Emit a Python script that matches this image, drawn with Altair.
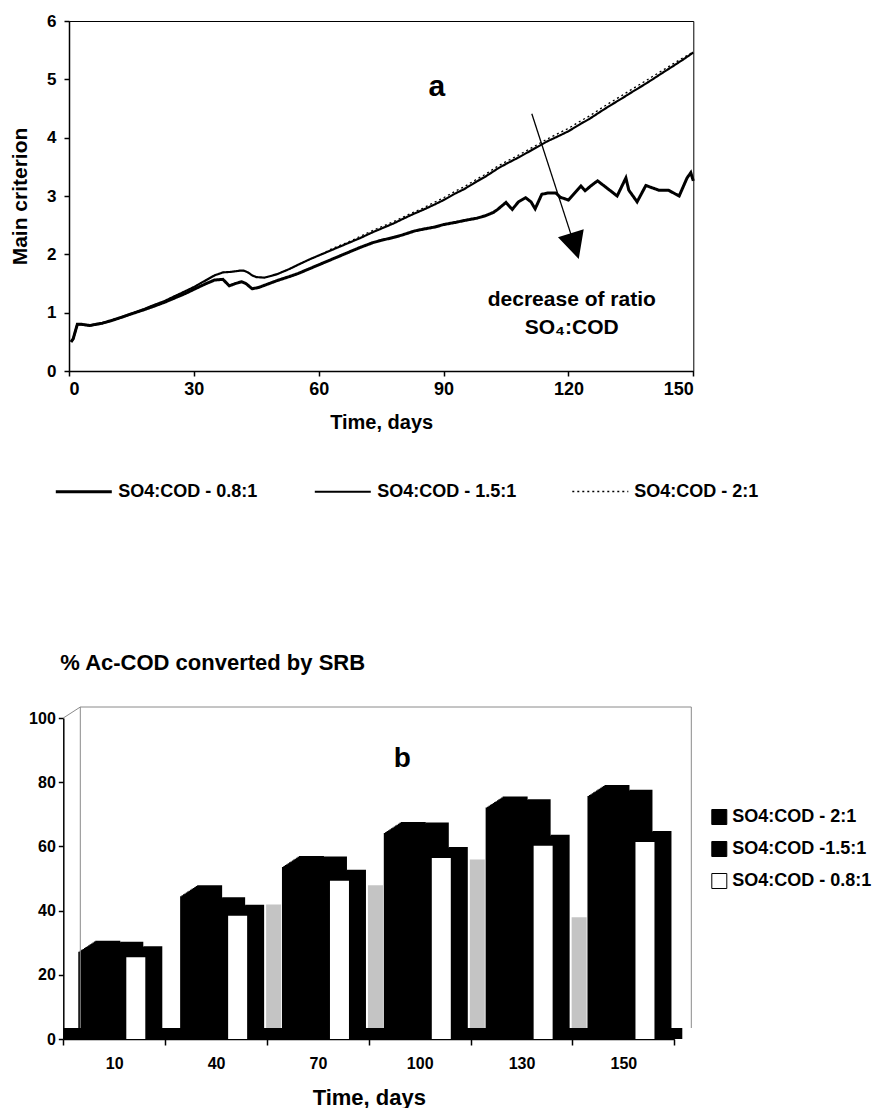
import altair as alt
import pandas as pd

FONT = "Liberation Sans"

# ---------------- panel a : main criterion vs time ----------------
S08 = "SO4:COD - 0.8:1"
S15 = "SO4:COD - 1.5:1"
S20 = "SO4:COD - 2:1"

days_a = [0.5, 1, 2, 3, 5, 8, 10, 13, 15, 18, 20, 23, 25, 28, 30, 33, 35, 37, 39, 41,
          42, 43, 44, 45, 47, 50, 53, 55, 58, 60, 63, 65, 68, 70, 73, 75, 78, 80, 83, 85,
          88, 90, 93, 95, 98, 100, 103, 105, 108, 110, 113, 115, 118, 120, 123, 125, 128, 130, 133, 135,
          138, 140, 143, 145, 148, 150]
crit_15 = [0.5, 0.55, 0.8, 0.8, 0.78, 0.82, 0.86, 0.93, 0.98, 1.06, 1.12, 1.2, 1.27, 1.37, 1.44, 1.56, 1.64, 1.69, 1.7, 1.72,
           1.72, 1.69, 1.64, 1.61, 1.6, 1.66, 1.75, 1.82, 1.92, 1.98, 2.07, 2.13, 2.22, 2.28, 2.38, 2.44, 2.53, 2.6, 2.7, 2.76,
           2.86, 2.93, 3.05, 3.12, 3.25, 3.33, 3.47, 3.55, 3.66, 3.74, 3.86, 3.94, 4.04, 4.11, 4.24, 4.32, 4.46, 4.55, 4.68, 4.77,
           4.9, 4.99, 5.13, 5.22, 5.36, 5.46]
crit_20 = [0.5, 0.55, 0.8, 0.8, 0.78, 0.82, 0.86, 0.93, 0.98, 1.06, 1.12, 1.2, 1.27, 1.37, 1.44, 1.56, 1.64, 1.69, 1.7, 1.72,
           1.72, 1.69, 1.64, 1.61, 1.6, 1.66, 1.75, 1.82, 1.92, 1.98, 2.09, 2.15, 2.24, 2.31, 2.41, 2.47, 2.56, 2.63, 2.73, 2.79,
           2.9, 2.97, 3.09, 3.16, 3.29, 3.37, 3.51, 3.59, 3.7, 3.78, 3.9, 3.98, 4.09, 4.16, 4.29, 4.37, 4.51, 4.6, 4.73, 4.82,
           4.95, 5.04, 5.17, 5.26, 5.39, 5.47]
days_b = [0.5, 1, 2, 3, 5, 8, 10, 13, 15, 18, 20, 23, 25, 28, 30, 33, 35, 37, 38.5, 40,
          41.5, 42.5, 44, 45.5, 47, 50, 53, 55, 58, 60, 63, 65, 68, 70, 73, 75, 78, 80, 83, 85,
          88, 90, 93, 95, 98, 100, 102, 103, 105, 106.5, 108, 109.7, 111, 112, 113.6, 115, 117, 118, 120, 121.5,
          123, 124, 125.5, 127, 129, 131.7, 133.8, 134.5, 136.5, 138.6, 141.7, 144, 146.6, 148.5, 149.4, 150]
crit_08 = [0.5, 0.55, 0.8, 0.8, 0.78, 0.82, 0.86, 0.93, 0.98, 1.05, 1.1, 1.18, 1.24, 1.33, 1.4, 1.5, 1.56, 1.57, 1.46, 1.5,
           1.53, 1.5, 1.41, 1.43, 1.47, 1.55, 1.62, 1.67, 1.76, 1.82, 1.91, 1.97, 2.06, 2.12, 2.2, 2.24, 2.29, 2.33, 2.4, 2.43,
           2.47, 2.51, 2.55, 2.58, 2.62, 2.66, 2.72, 2.77, 2.89, 2.77, 2.9, 2.97, 2.9, 2.78, 3.03, 3.05, 3.05, 2.98, 2.93, 3.05,
           3.17, 3.09, 3.18, 3.26, 3.15, 3.0, 3.31, 3.1, 2.9, 3.18, 3.1, 3.1, 3.0, 3.31, 3.4, 3.26]

arrow_day = [111.2, 120.8]
arrow_crit = [4.41, 2.3]
head_day = [121.4]
head_crit = [2.17]

# ---------------- panel b : % Ac-COD converted by SRB ----------------
bar_days = ["10", "40", "70", "100", "130", "150"]
B20 = "SO4:COD - 2:1"
B15 = "SO4:COD -1.5:1"
B08 = "SO4:COD - 0.8:1"
pct_20 = [27.2, 44.5, 53.6, 64.2, 72.1, 75.7]
pct_15 = [26.9, 40.7, 53.4, 64.0, 71.3, 74.2]
pct_08 = [25.5, 38.4, 49.3, 56.4, 60.2, 61.4]
shade_days = ["40", "70", "100", "130"]
shade_pct = [41, 47, 55, 37]

# ---------------- layout constants ----------------
X0 = 70.7
W_A, H_A = 624.3, 350
W_B, H_B = 605.3, 321
FRONT = -5.7          # front y axis of panel b, relative to plot origin
DX, DY = 17.0, 11.0   # 3-D depth of panel b
STEPS = 12

# ================= panel a =================
df_a = pd.DataFrame({
    "day": days_b + days_a + days_a,
    "crit": crit_08 + crit_15 + crit_20,
    "series": [S08] * len(days_b) + [S15] * len(days_a) + [S20] * len(days_a),
})
ser_a = [S08, S15, S20]

leg_a = alt.Legend(title=None, orient="none", legendX=56 - X0, legendY=441, direction="horizontal",
                   symbolType="stroke", symbolSize=3136, symbolStrokeColor="black",
                   labelFont=FONT, labelFontSize=18, labelFontWeight="bold", labelColor="black",
                   labelOffset=5, columnPadding=52, labelLimit=400)

xa = alt.X("day:Q", scale=alt.Scale(domain=[0, 150], nice=False, zero=False),
           axis=alt.Axis(values=[0, 30, 60, 90, 120, 150], title="Time, days", grid=False,
                         labelFontSize=18, titleFontSize=20, tickSize=5, labelPadding=4,
                         titlePadding=14, domainWidth=1.5, tickWidth=1.5))
ya = alt.Y("crit:Q", scale=alt.Scale(domain=[0, 6], nice=False),
           axis=alt.Axis(values=[0, 1, 2, 3, 4, 5, 6], title="Main criterion", grid=False,
                         labelFontSize=17, titleFontSize=21, tickSize=5, labelPadding=8,
                         titlePadding=16, domainWidth=1.5, tickWidth=1.5))

lines = alt.Chart(df_a).mark_line(color="black", strokeCap="butt").encode(
    x=xa, y=ya,
    strokeWidth=alt.StrokeWidth("series:N", scale=alt.Scale(domain=ser_a, range=[3, 1.3, 1.3]), legend=leg_a),
    strokeDash=alt.StrokeDash("series:N", scale=alt.Scale(domain=ser_a, range=[[1, 0], [1, 0], [2, 3]]), legend=leg_a),
)

df_arrow = pd.DataFrame({"day": arrow_day, "crit": arrow_crit})
arrow = alt.Chart(df_arrow).mark_line(color="black", strokeWidth=1.3).encode(x=xa, y=ya)
df_head = pd.DataFrame({"day": head_day, "crit": head_crit})
head = alt.Chart(df_head).mark_point(shape="M-1,-0.9L1,-0.9L0,1.1Z", size=560, angle=343,
                                     filled=True, fill="black", stroke="black", opacity=1).encode(x=xa, y=ya)


def note(text, day, crit, size):
    return alt.Chart(pd.DataFrame({"day": [day], "crit": [crit]})).mark_text(
        text=text, font=FONT, fontSize=size, fontWeight="bold", color="black",
        align="center", baseline="alphabetic").encode(x=xa, y=ya)


panel_a = alt.layer(
    lines, arrow, head,
    note("a", 88.4, 4.71, 30),
    note("decrease of ratio", 120.8, 1.11, 21),
    note("SO\u2084:COD", 120.8, 0.63, 21),
).properties(width=W_A, height=H_A, view=alt.ViewBackground(stroke="black", strokeWidth=1))

# ================= panel b =================
df_b = pd.DataFrame({
    "day": bar_days * 3,
    "pct": pct_20 + pct_15 + pct_08,
    "series": [B20] * 6 + [B15] * 6 + [B08] * 6,
})
df_shade = pd.DataFrame({"day": shade_days, "pct": shade_pct})
one = pd.DataFrame({"k": [0]})

xb = alt.X("day:N", sort=bar_days,
           scale=alt.Scale(domain=bar_days, range=[FRONT, W_B], paddingInner=0, paddingOuter=0),
           axis=alt.Axis(title="Time, days", labelAngle=0, tickBand="extent", labelFontSize=16,
                         titleFontSize=22, tickSize=6, labelPadding=10, titlePadding=16,
                         domainWidth=1.5, tickWidth=1.5))
yb = alt.Y("pct:Q", scale=alt.Scale(domain=[0, 100], nice=False),
           axis=alt.Axis(values=[0, 20, 40, 60, 80, 100], title=None, grid=False, offset=-FRONT,
                         labelFontSize=16, tickSize=5, labelPadding=3, domainWidth=1.5, tickWidth=1.5))

fill_b = alt.Fill("series:N", scale=alt.Scale(domain=[B20, B15, B08], range=["#000000", "#000000", "#ffffff"]),
                  legend=alt.Legend(title=None, orient="none", legendX=712 - X0, legendY=90,
                                    symbolType="square", symbolSize=225, symbolStrokeColor="black",
                                    symbolStrokeWidth=1, labelFont=FONT, labelFontSize=18,
                                    labelFontWeight="bold", labelColor="black", labelOffset=4,
                                    rowPadding=12, labelLimit=400))

band_c = (W_B - FRONT) / 6 / 2
geo = {B20: (25, 27.5), B15: (23, 51.5), B08: (19, 72.5)}  # (face width, face centre in band)

layers_b = []
layers_b.append(alt.Chart(df_shade).mark_bar(width=15, xOffset=108.5 - band_c, yOffset=-3,
                                            color="#c4c4c4").encode(x=xb, y=yb))
layers_b.append(alt.Chart(one).mark_rect(color="black").encode(
    x=alt.value(FRONT), x2=alt.value(W_B + 8), y=alt.value(H_B - DY), y2=alt.value(H_B)))

for ser in [B20, B15, B08]:
    w, c = geo[ser]
    src = alt.Chart(df_b).transform_filter(alt.datum.series == ser)
    for k in range(STEPS, 0, -1):
        layers_b.append(src.mark_bar(width=w, xOffset=c - band_c + k * DX / STEPS,
                                     yOffset=-k * DY / STEPS, color="black").encode(x=xb, y=yb))
    layers_b.append(src.mark_bar(width=w, xOffset=c - band_c).encode(x=xb, y=yb, fill=fill_b))

wall = dict(color="#8a8a8a", strokeWidth=1)
layers_b += [
    alt.Chart(one).mark_rule(**wall).encode(x=alt.value(FRONT + DX), x2=alt.value(W_B + DX), y=alt.value(-DY)),
    alt.Chart(one).mark_rule(**wall).encode(x=alt.value(FRONT + DX), y=alt.value(-DY), y2=alt.value(H_B - DY)),
    alt.Chart(one).mark_rule(**wall).encode(x=alt.value(W_B + DX), y=alt.value(-DY), y2=alt.value(H_B - DY)),
    alt.Chart(one).mark_rule(**wall).encode(x=alt.value(FRONT), y=alt.value(0),
                                            x2=alt.value(FRONT + DX), y2=alt.value(-DY)),
    alt.Chart(one).mark_text(text="b", font=FONT, fontSize=28, fontWeight="bold", color="black",
                             align="center", baseline="alphabetic").encode(x=alt.value(404 - X0), y=alt.value(49)),
]

panel_b = alt.layer(*layers_b).properties(
    width=W_B, height=H_B,
    title=alt.TitleParams("% Ac-COD converted by SRB", anchor="start", frame="group", font=FONT,
                          fontSize=22, fontWeight="bold", color="black", offset=32, dx=65 - 3 - X0),
)

chart = alt.vconcat(panel_a, panel_b, spacing=149).resolve_legend(
    fill="independent", strokeWidth="independent", strokeDash="independent"
).resolve_scale(
    fill="independent", strokeWidth="independent", strokeDash="independent"
).properties(
    padding={"left": 9, "top": 11, "right": 0, "bottom": 0}
).configure(font=FONT).configure_view(stroke=None).configure_axis(
    labelFont=FONT, titleFont=FONT, labelFontWeight="bold", titleFontWeight="bold",
    labelColor="black", titleColor="black", domainColor="black", tickColor="black"
)

chart.save("out.html", embed_options={"renderer": "svg", "actions": False})
